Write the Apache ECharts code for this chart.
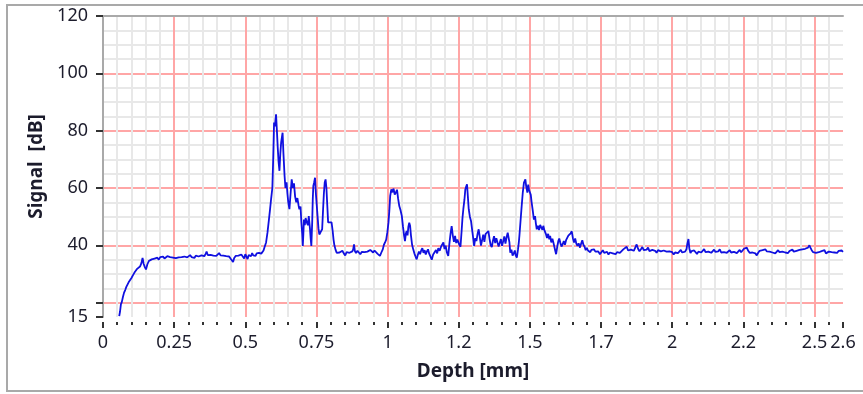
<!DOCTYPE html>
<html>
<head>
<meta charset="utf-8">
<title>Signal vs Depth</title>
<script src="https://cdn.jsdelivr.net/npm/echarts@6.0.0/dist/echarts.min.js"></script>
<style>
  html, body { margin: 0; padding: 0; background: #fff; }
  #chart { width: 863px; height: 394px; }
</style>
</head>
<body>
<div id="chart"></div>
<script>
// depth [mm] and signal [dB]
var depth = [
  0.057,0.060,0.063,0.066,0.070,0.074,0.078,0.082,0.086,0.090,
  0.095,0.100,0.105,0.110,0.115,0.120,0.125,0.130,0.135,0.139,
  0.143,0.147,0.151,0.156,0.161,0.166,0.171,0.176,0.181,0.186,
  0.191,0.196,0.201,0.206,0.211,0.216,0.221,0.226,0.231,0.236,
  0.241,0.246,0.251,0.256,0.261,0.266,0.271,0.276,0.281,0.286,
  0.291,0.296,0.301,0.306,0.311,0.316,0.321,0.326,0.331,0.336,
  0.341,0.346,0.351,0.356,0.361,0.364,0.368,0.373,0.378,0.383,
  0.388,0.393,0.398,0.403,0.408,0.413,0.418,0.423,0.428,0.433,
  0.438,0.443,0.448,0.452,0.457,0.461,0.466,0.471,0.476,0.481,
  0.486,0.491,0.496,0.500,0.505,0.508,0.512,0.516,0.520,0.524,
  0.528,0.532,0.536,0.540,0.544,0.548,0.552,0.556,0.560,0.564,
  0.568,0.573,0.578,0.583,0.587,0.591,0.595,0.598,0.601,0.604,
  0.608,0.611,0.614,0.617,0.620,0.623,0.626,0.631,0.634,0.638,
  0.641,0.645,0.648,0.651,0.655,0.659,0.663,0.667,0.671,0.675,
  0.679,0.683,0.687,0.690,0.694,0.697,0.700,0.702,0.704,0.706,
  0.709,0.712,0.716,0.720,0.723,0.727,0.730,0.732,0.735,0.737,
  0.739,0.742,0.745,0.748,0.751,0.754,0.757,0.760,0.764,0.767,
  0.770,0.773,0.776,0.779,0.782,0.785,0.788,0.791,0.794,0.798,
  0.803,0.807,0.810,0.813,0.817,0.821,0.826,0.831,0.836,0.841,
  0.846,0.851,0.856,0.861,0.866,0.871,0.876,0.879,0.882,0.885,
  0.889,0.894,0.899,0.904,0.909,0.914,0.919,0.924,0.929,0.934,
  0.939,0.944,0.949,0.954,0.959,0.964,0.969,0.973,0.978,0.983,
  0.987,0.991,0.995,0.999,1.003,1.006,1.009,1.013,1.017,1.021,
  1.025,1.029,1.033,1.037,1.041,1.045,1.050,1.054,1.058,1.061,
  1.064,1.067,1.070,1.073,1.076,1.079,1.082,1.086,1.090,1.094,
  1.098,1.102,1.106,1.110,1.114,1.118,1.122,1.126,1.130,1.134,
  1.138,1.142,1.146,1.150,1.155,1.160,1.165,1.170,1.174,1.178,
  1.183,1.188,1.192,1.196,1.200,1.204,1.208,1.213,1.217,1.221,
  1.225,1.229,1.233,1.237,1.241,1.245,1.248,1.252,1.256,1.260,
  1.263,1.266,1.270,1.273,1.276,1.279,1.282,1.285,1.289,1.293,
  1.296,1.300,1.304,1.308,1.312,1.316,1.320,1.324,1.328,1.332,
  1.336,1.340,1.344,1.349,1.354,1.358,1.362,1.366,1.370,1.374,
  1.378,1.382,1.386,1.390,1.394,1.398,1.402,1.406,1.410,1.414,
  1.418,1.422,1.425,1.428,1.431,1.435,1.439,1.443,1.447,1.450,
  1.454,1.458,1.461,1.463,1.467,1.471,1.475,1.479,1.482,1.484,
  1.487,1.491,1.494,1.497,1.500,1.503,1.506,1.510,1.514,1.518,
  1.521,1.524,1.528,1.532,1.536,1.540,1.544,1.547,1.551,1.556,
  1.560,1.564,1.568,1.571,1.575,1.579,1.582,1.586,1.589,1.592,
  1.596,1.600,1.603,1.607,1.611,1.615,1.619,1.623,1.627,1.631,
  1.635,1.639,1.643,1.647,1.651,1.655,1.659,1.663,1.667,1.671,
  1.676,1.680,1.684,1.688,1.692,1.696,1.700,1.704,1.708,1.712,
  1.716,1.720,1.725,1.730,1.735,1.740,1.746,1.751,1.756,1.761,
  1.766,1.771,1.776,1.781,1.786,1.791,1.796,1.801,1.806,1.811,
  1.816,1.821,1.828,1.834,1.840,1.845,1.850,1.855,1.860,1.865,
  1.870,1.875,1.880,1.885,1.890,1.895,1.900,1.905,1.910,1.915,
  1.920,1.925,1.930,1.935,1.940,1.945,1.950,1.955,1.960,1.965,
  1.970,1.975,1.980,1.985,1.990,1.995,2.000,2.005,2.010,2.015,
  2.020,2.025,2.030,2.035,2.040,2.045,2.050,2.053,2.057,2.060,
  2.064,2.068,2.072,2.077,2.082,2.087,2.092,2.097,2.102,2.107,
  2.112,2.117,2.122,2.127,2.132,2.137,2.142,2.147,2.152,2.157,
  2.162,2.167,2.172,2.177,2.182,2.187,2.192,2.197,2.202,2.207,
  2.212,2.217,2.222,2.227,2.232,2.237,2.242,2.247,2.252,2.257,
  2.262,2.267,2.272,2.277,2.282,2.287,2.292,2.297,2.302,2.307,
  2.312,2.317,2.322,2.327,2.332,2.337,2.342,2.347,2.352,2.357,
  2.362,2.367,2.372,2.377,2.382,2.387,2.392,2.397,2.402,2.407,
  2.412,2.417,2.422,2.427,2.432,2.437,2.442,2.447,2.452,2.457,
  2.462,2.467,2.472,2.477,2.482,2.486,2.490,2.495,2.500,2.505,
  2.510,2.515,2.520,2.525,2.530,2.535,2.540,2.545,2.550,2.555,
  2.560,2.565,2.570,2.575,2.580,2.585,2.590,2.595,2.600
];
var signal = [
  15.3,17,19.5,20.2,22,23.5,24.4,25.5,26.3,27.1,
  27.6,28.6,29.5,30.4,30.9,31.8,32.2,32.6,33.8,35.6,
  33.5,32.4,31.6,33.4,34.5,33.9,35.1,34.6,35.4,34.8,
  35.7,35.0,35.9,35.3,36.1,35.4,35.8,36.2,35.6,35.9,
  36.3,35.7,36.0,35.5,35.1,35.8,36.2,35.9,35.4,36.1,
  36.5,35.8,36.2,36.6,35.9,36.3,35.6,36.4,36.8,36.1,
  35.7,36.5,36.9,36.2,37.1,37.8,36.6,36.0,36.7,37.2,
  36.4,36.9,36.3,36.8,37.3,36.5,36.9,36.4,36.7,36.2,
  35.8,36.1,35.4,34.9,34.2,35.6,36.3,35.7,36.4,35.9,
  36.8,36.1,35.4,36.9,37.5,35.2,36.6,37.1,36.2,37.3,
  36.5,36.9,36.3,37.2,36.7,37.4,36.8,37.1,37.6,38.2,
  39.5,41,44.5,49,52.6,56.5,60,70,82.8,81.5,
  85.7,80,74,69,66,72,76,79.3,72,64.2,
  60,62,58,55,52.6,58,63,60,61.6,57,
  55,56.5,54,52.6,53.5,48,44,39.8,44,49,
  47,49.5,48,47,50.2,46,42,39.8,48,56,
  60.7,62,63.6,58,54,50,46,43.8,44.5,44,
  45.6,52,58,61.9,63,60,54,48,47.9,48.3,
  48,45,42,40,38.5,37.4,36.8,37.5,36.9,38.1,
  37.2,36.5,37.6,38.2,37.4,36.8,37.9,38.6,40.3,38.0,
  37.3,38.1,37.5,36.9,37.7,38.3,37.6,38.2,37.8,37.3,
  38.4,38.0,37.5,38.2,37.9,37.1,36.6,36.3,37.5,38.6,
  40.2,41,42,44.5,47.9,52,57.2,59.5,58.5,59.8,
  57.7,58.4,59.4,56.2,53.7,52.4,50.2,46.5,43.3,41.5,
  44,45,43.5,46.5,47.9,46.8,43.5,40.2,38.6,37.2,
  36.1,35.1,36.6,37.8,36.9,38.2,39.0,37.4,38.3,36.8,
  37.9,38.6,37.1,36.2,35.0,36.8,37.6,38.4,37.2,39.0,
  38.1,39.6,40.3,41.0,38.7,39.9,37.6,36.3,40.5,44.0,
  46.7,43.5,41.2,43.3,40.8,42.0,42.0,40.2,39.5,45,
  49.5,52.6,56,59.5,60.5,61.3,57,52.6,50,48.5,
  47.9,43,39.8,42.5,41.5,44,45.6,42.8,39.9,41.8,
  43.7,41.2,43.9,44.5,45.0,42.3,40.1,39.4,41.6,43.2,
  40.8,42.5,41.0,39.6,40.9,42.2,39.8,41.4,43.1,40.6,
  42.8,44.4,45.0,41.0,37.4,38.5,36.4,37.1,38.2,36.5,
  35.7,38.5,41,43.3,48.5,53.7,58.5,61.9,62.5,63,
  60.5,58.4,61.2,59.3,59.5,57.6,55,52.1,49,50.2,
  47.6,45.6,46.8,45.3,47.1,46.2,45.4,46.8,45.2,44.0,
  42.6,44.0,42.1,43.3,41.0,42.3,41.2,39.4,38.1,36.9,
  39.5,41.6,42.4,40.8,39.6,40.4,41.5,40.2,41.8,42.6,
  43.4,43.8,44.2,44.9,42.5,41.0,42.4,40.6,39.8,40.7,
  39.2,40.6,41.8,40.2,39.5,38.3,39.1,38.2,38.8,37.6,
  38.4,37.9,38.6,37.8,37.3,37.9,36.9,37.6,38.3,37.4,
  37.0,37.7,36.8,37.5,38.1,37.2,37.8,36.9,37.6,38.2,
  37.4,38.0,38.6,39.1,39.5,38.2,37.8,38.5,39.0,38.1,
  39.2,40.3,38.8,37.9,38.6,39.4,38.3,37.7,38.5,39.2,
  38.0,37.5,38.4,38.9,38.1,37.4,38.3,38.8,37.9,37.5,
  38.2,38.6,37.8,37.2,37.9,38.4,37.6,36.8,37.5,38.1,
  37.3,37.8,38.4,37.5,37.0,37.8,38.6,40.5,42.2,39.0,
  37.3,38.0,37.5,38.2,37.6,37.0,37.8,38.4,37.5,38.1,
  38.7,37.6,37.1,37.8,38.3,37.4,38.0,38.5,37.7,37.2,
  37.9,38.6,37.5,37.0,37.6,38.2,37.4,37.8,38.3,37.5,
  37.1,37.7,38.1,37.3,37.8,38.4,37.6,38.2,38.8,39.4,
  39.2,38.1,37.4,38.0,37.5,36.9,37.2,36.5,37.4,38.1,
  37.6,38.3,37.8,38.6,37.9,37.3,37.8,38.2,37.5,37.9,
  37.2,37.7,38.3,37.6,37.1,37.8,38.4,37.5,37.9,37.3,
  38.0,37.6,38.5,37.8,37.2,38.1,37.7,38.4,37.9,38.6,
  38.0,38.8,38.3,39.2,40.0,39.1,38.3,37.6,38.2,37.4,
  36.8,37.6,37.1,38.0,37.5,38.3,37.2,36.9,37.8,38.4,
  37.6,38.2,37.5,38.0,37.4,38.1,37.6,38.2,37.7
];

// tick labels as shown (the instrument truncates some of them)
var xLabelPos = [0, 0.25, 0.5, 0.75, 1, 1.25, 1.5, 1.75, 2, 2.25, 2.5, 2.6];
var xLabelText = ['0', '0.25', '0.5', '0.75', '1', '1.2', '1.5', '1.7', '2', '2.2', '2.5', '2.6'];
var yLabelPos = [15, 40, 60, 80, 100, 120];
var yTickPos = [15, 20, 40, 60, 80, 100, 120];

var points = depth.map(function (d, i) { return [d, signal[i]]; });

var chart = echarts.init(document.getElementById('chart'));
var textColor = '#1c1c2c';
var font = 'Noto Sans';
var red = '#ffa6a6';
var minor = '#e8e8e8';

var option = {
  animation: false,
  backgroundColor: '#fff',
  grid: { left: 103, right: 20, top: 16, bottom: 77 },
  graphic: [{
    type: 'rect',
    shape: { x: 7, y: 5, width: 870, height: 386 },
    style: { fill: 'none', stroke: '#a9a9a9', lineWidth: 2 },
    silent: true
  }],
  xAxis: [
    {
      // grid lines + minor dot ticks
      type: 'value', min: 0, max: 2.6, interval: 0.05,
      position: 'bottom', offset: 5,
      axisLine: { show: false },
      axisTick: { show: true, length: 3, lineStyle: { color: '#333', width: 2 } },
      axisLabel: { show: false },
      splitLine: { show: true, showMaxLine: false, lineStyle: { color: [red, minor, minor, minor, minor], width: 2 } }
    },
    {
      // major ticks + labels
      type: 'value', min: 0, max: 2.6,
      position: 'bottom', offset: 5,
      axisLine: { show: false },
      axisTick: { show: true, length: 6, customValues: xLabelPos, lineStyle: { color: '#333', width: 2 } },
      axisLabel: {
        customValues: xLabelPos, margin: 12, color: textColor, fontFamily: font, fontSize: 18,
        formatter: function (v) {
          for (var i = 0; i < xLabelPos.length; i++) {
            if (Math.abs(xLabelPos[i] - v) < 1e-6) return xLabelText[i];
          }
          return '';
        }
      },
      splitLine: { show: false },
      name: 'Depth [mm]', nameLocation: 'middle', nameGap: 40,
      nameTextStyle: { color: textColor, fontFamily: font, fontSize: 19, fontWeight: 'bold' }
    },
    {
      // top border
      type: 'value', min: 0, max: 2.6, position: 'top',
      axisLine: { show: true, lineStyle: { color: '#a9a9a9', width: 2 } },
      axisTick: { show: false }, axisLabel: { show: false }, splitLine: { show: false }
    }
  ],
  yAxis: [
    {
      type: 'value', min: 15, max: 120, interval: 5, position: 'left',
      axisLine: { show: true, lineStyle: { color: '#a9a9a9', width: 2 } },
      axisTick: { show: false },
      axisLabel: { show: false },
      // first line (15) is skipped, so the colour cycle starts at 20
      splitLine: { show: true, showMinLine: false, showMaxLine: false, lineStyle: { color: [red, minor, minor, minor], width: 2 } }
    },
    {
      type: 'value', min: 15, max: 120, position: 'left', offset: 4,
      axisLine: { show: false },
      axisTick: { show: true, length: 7, customValues: yTickPos, lineStyle: { color: '#333', width: 2 } },
      axisLabel: { customValues: yLabelPos, margin: 11, color: textColor, fontFamily: font, fontSize: 18 },
      splitLine: { show: false },
      name: 'Signal  [dB]', nameLocation: 'middle', nameGap: 48, nameRotate: 90,
      nameTextStyle: { color: textColor, fontFamily: font, fontSize: 19, fontWeight: 'bold' }
    }
  ],
  series: [{
    type: 'line',
    xAxisIndex: 0,
    yAxisIndex: 0,
    data: points,
    showSymbol: false,
    lineStyle: { color: '#1010e0', width: 1.8 },
    z: 5
  }]
};
chart.setOption(option);
</script>
</body>
</html>
